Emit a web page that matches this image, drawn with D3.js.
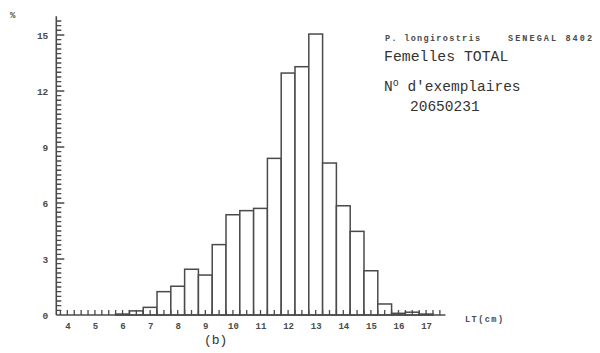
<!DOCTYPE html>
<html>
<head>
<meta charset="utf-8">
<script src="https://cdn.jsdelivr.net/npm/d3@7"></script>
<style>
  body { margin: 0; background: #fff; }
  svg { display: block; }
</style>
</head>
<body>
<svg width="600" height="353"></svg>
<script>
// length classes (cm, bar centres) and percentages
var lengths = [6, 6.5, 7, 7.5, 8, 8.5, 9, 9.5, 10, 10.5, 11, 11.5, 12, 12.5, 13, 13.5, 14, 14.5, 15, 15.5, 16, 16.5, 17];
var percents = [0.05, 0.22, 0.41, 1.25, 1.54, 2.45, 2.14, 3.77, 5.37, 5.59, 5.71, 8.39, 12.96, 13.3, 15.05, 8.14, 5.85, 4.48, 2.37, 0.59, 0.09, 0.15, 0.05];
var xLabels = [4, 5, 6, 7, 8, 9, 10, 11, 12, 13, 14, 15, 16, 17];
var yLabels = [0, 3, 6, 9, 12, 15];

var svg = d3.select("svg");
var ink = "#4a4a4a";
var plotter = "'Liberation Mono', 'DejaVu Sans Mono', monospace";

var x = d3.scaleLinear().domain([3.6, 17.7]).range([56.3, 445.4]);
var y = d3.scaleLinear().domain([0, 16]).range([315, 16.3]);
var binW = 0.5;

// bars
svg.append("g")
    .selectAll("rect")
    .data(lengths)
    .enter().append("rect")
    .attr("x", function (d) { return x(d - binW / 2); })
    .attr("width", function (d) { return x(d + binW / 2) - x(d - binW / 2); })
    .attr("y", function (d, i) { return y(percents[i]); })
    .attr("height", function (d, i) { return y(0) - y(percents[i]); })
    .style("fill", "#fff")
    .style("stroke", ink)
    .style("stroke-width", 1.5);

// minor ticks on both axes, pointing inwards (drawn as one path each)
var xTickPath = d3.range(3.75, 17.6, 0.25).map(function (d) {
    return "M" + x(d) + "," + y(0) + "v-5";
}).join("");
svg.append("path")
    .attr("d", xTickPath)
    .attr("fill", "none")
    .attr("stroke", ink)
    .attr("stroke-width", 1.3);

var yTickPath = d3.range(0.25, 16, 0.25).map(function (d) {
    var len = yLabels.indexOf(d) >= 0 ? 8 : 5;
    return "M" + x(3.6) + "," + y(d) + "h" + len;
}).join("");
svg.append("path")
    .attr("d", yTickPath)
    .attr("fill", "none")
    .attr("stroke", ink)
    .attr("stroke-width", 1.4);

// axis lines + labels
svg.append("g")
    .attr("transform", "translate(0," + y(0) + ")")
    .call(d3.axisBottom(x).tickValues(xLabels).tickSize(0).tickPadding(8).tickFormat(d3.format("d")))
    .call(function (g) {
        g.select(".domain").attr("d", "M" + x(3.6) + ",0H" + x(17.7))
            .attr("stroke", ink).attr("stroke-width", 1.6);
        g.selectAll("text").style("font-family", plotter)
            .style("font-size", "9px").style("font-weight", "bold").style("fill", ink);
    });

svg.append("g")
    .attr("transform", "translate(" + x(3.6) + ",0)")
    .call(d3.axisLeft(y).tickValues(yLabels).tickSize(0).tickPadding(8).tickFormat(d3.format("d")))
    .call(function (g) {
        g.select(".domain").attr("d", "M0," + y(0) + "V" + y(16))
            .attr("stroke", ink).attr("stroke-width", 1.6);
        g.selectAll("text").style("font-family", plotter)
            .style("font-size", "9.5px").style("font-weight", "bold").style("fill", ink);
    });

// axis titles
svg.append("text").attr("x", 10).attr("y", 18).text("%")
    .style("font-family", plotter).style("font-size", "9px")
    .style("font-weight", "bold").style("fill", ink);

svg.append("text").attr("x", 465).attr("y", 322).text("LT(cm)")
    .attr("textLength", 38)
    .style("font-family", plotter).style("font-size", "8.5px")
    .style("font-weight", "bold").style("fill", ink);

svg.append("text").attr("x", 204).attr("y", 344).text("(b)")
    .style("font-family", plotter).style("font-size", "13px")
    .style("fill", "#333");

// annotation block
svg.append("text").attr("x", 385).attr("y", 41).text("P. longirostris")
    .attr("textLength", 95)
    .style("font-family", plotter).style("font-size", "8.5px")
    .style("font-weight", "bold").style("fill", ink);
svg.append("text").attr("x", 508).attr("y", 41).text("SENEGAL 8402")
    .attr("textLength", 84)
    .style("font-family", plotter).style("font-size", "8.5px")
    .style("font-weight", "bold").style("fill", ink);

var mono = "'Courier New', 'Liberation Mono', monospace";
svg.append("text").attr("x", 384).attr("y", 61).text("Femelles TOTAL")
    .style("font-family", mono).style("font-size", "14.8px").style("fill", "#333");
var nb = svg.append("text").attr("x", 384).attr("y", 91)
    .style("font-family", mono).style("font-size", "14.5px").style("fill", "#333");
nb.append("tspan").text("N");
nb.append("tspan").attr("dy", -5).style("font-size", "10px").text("o");
nb.append("tspan").attr("dy", 5).text(" d'exemplaires");
svg.append("text").attr("x", 410).attr("y", 111).text("20650231")
    .style("font-family", mono).style("font-size", "14.5px").style("fill", "#333");
</script>
</body>
</html>
